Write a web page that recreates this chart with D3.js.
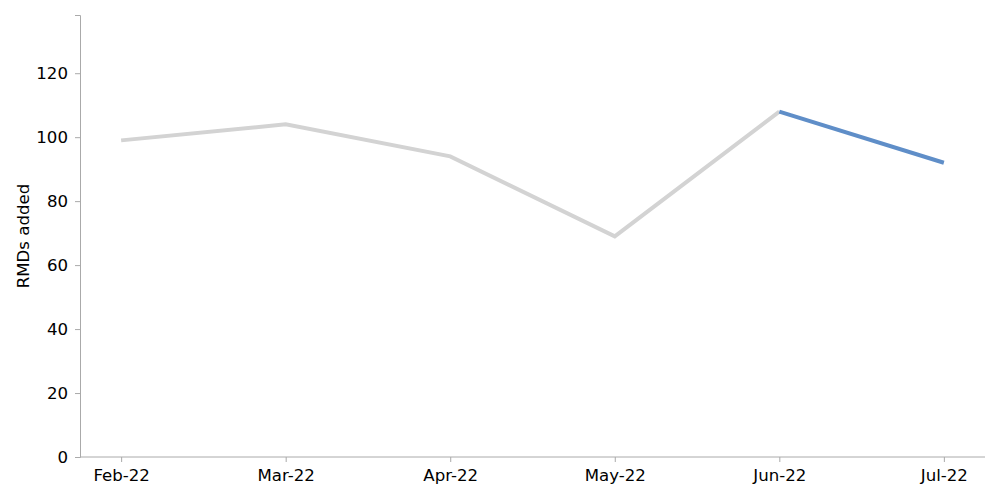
<!DOCTYPE html>
<html><head><meta charset="utf-8">
<script src="https://cdn.jsdelivr.net/npm/d3@7"></script>
<style>body{margin:0;background:#fff}svg{font-family:"DejaVu Sans",sans-serif}</style>
</head><body><svg id="c" width="1000" height="500"></svg>
<script>
const categories = ["Feb-22","Mar-22","Apr-22","May-22","Jun-22","Jul-22"];
const values = [99, 104, 94, 69, 108, 92];
const highlightFrom = 4;
const yTicks = [0,20,40,60,80,100,120];
const yLabel = "RMDs added";

const m = {l:80, r:15, t:15, b:43};
const W = 1000, H = 500;
const FS = "16.6px";
const svg = d3.select("#c");
const span = (W-m.r-m.l)/(1+0.1);
const x = d3.scalePoint().domain(categories).range([m.l+span*0.05, W-m.r-span*0.05]);
const y = d3.scaleLinear().domain([0,138.2]).range([H-m.b, m.t]);

const gx = svg.append("g").attr("transform",`translate(0,${H-m.b})`)
  .call(d3.axisBottom(x).tickSize(5).tickPadding(7));
gx.select(".domain").attr("d",`M${m.l},0H${W-m.r}`);
const gy = svg.append("g").attr("transform",`translate(${m.l},0)`)
  .call(d3.axisLeft(y).tickValues(yTicks).tickSize(5).tickPadding(7));
[gx,gy].forEach(g=>{
  g.attr("font-size",null).attr("font-family",null);
  g.selectAll(".domain").attr("stroke","#aaaaaa");
  g.selectAll(".tick line").attr("stroke","#aaaaaa");
  g.selectAll("text").style("font-size",FS).attr("fill","#000");
});

svg.append("text").attr("transform",`translate(29,${(m.t+H-m.b)/2}) rotate(-90)`)
  .attr("text-anchor","middle").style("font-size",FS).text(yLabel);

const pts = values.map((v,i)=>({v,i}));
const ln = d3.line().x(d=>x(categories[d.i])).y(d=>y(d.v));
svg.append("path").datum(pts.slice(0,highlightFrom+1)).attr("d",ln)
  .attr("fill","none").attr("stroke","#d3d3d3").attr("stroke-width",4);
svg.append("path").datum(pts.slice(highlightFrom)).attr("d",ln)
  .attr("fill","none").attr("stroke","#5f8ec8").attr("stroke-width",4);
</script></body></html>
